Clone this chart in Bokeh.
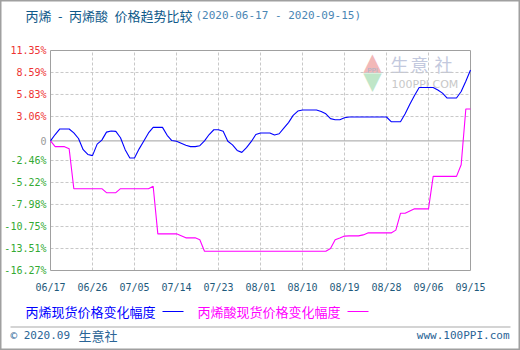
from bokeh.plotting import figure
from bokeh.models import Label, Range1d, BoxAnnotation, ColumnDataSource
from bokeh.core.properties import value
from bokeh.embed import file_html
from bokeh.resources import INLINE

# ---- data ----
days = list(range(91))  # 0 = 2020-06-17 ... 90 = 2020-09-15
tick_days = [0, 9, 18, 27, 36, 45, 54, 63, 72, 81, 90]
x_labels = ["06/17", "06/26", "07/05", "07/14", "07/23", "08/01",
            "08/10", "08/19", "08/28", "09/06", "09/15"]
y_ticks = [11.35, 8.59, 5.83, 3.06, 0, -2.46, -5.22, -7.98, -10.75, -13.51, -16.27]
y_labels = ["11.35%", "8.59%", "5.83%", "3.06%", "0", "-2.46%", "-5.22%",
            "-7.98%", "-10.75%", "-13.51%", "-16.27%"]

propylene = [0, 0.8, 1.5, 1.5, 1.5, 1.0, 0.3, -1.1, -1.7, -1.85,
             -0.4, 0.1, 1.1, 1.25, 1.2, 0.4, -1.1, -2.14, -2.14, -1.0,
             0.0, 1.0, 1.7, 1.7, 1.7, 0.7, 0.05, -0.05, -0.3, -0.55,
             -0.72, -0.72, -0.6, 0.0, 0.8, 1.4, 1.4, 1.2, -0.05, -0.5,
             -1.2, -1.44, -0.85, -0.1, 0.8, 1.0, 1.0, 1.0, 0.75, 0.9,
             1.6, 2.3, 3.2, 3.75, 3.88, 3.88, 3.88, 3.88, 3.7, 3.4,
             2.8, 2.66, 2.66, 2.9, 3.0, 3.0, 3.0, 3.0, 3.0, 3.0,
             3.0, 3.0, 3.0, 2.41, 2.41, 2.41, 3.4, 4.6, 5.7, 6.7,
             6.71, 6.71, 6.71, 6.4, 6.0, 5.38, 5.38, 5.38, 6.2, 7.5,
             8.9]
acrylic = [0, -0.72, -0.72, -0.72, -1.0, -6.0, -6.0, -6.0, -6.0, -6.0,
           -6.0, -6.0, -6.5, -6.5, -6.5, -6.0, -6.0, -6.0, -6.0, -6.0,
           -6.0, -6.0, -5.7, -11.67, -11.67, -11.67, -11.67, -11.67, -11.9, -12.17,
           -12.17, -12.17, -12.4, -13.85, -13.85, -13.85, -13.85, -13.85, -13.85, -13.85,
           -13.85, -13.85, -13.85, -13.85, -13.85, -13.85, -13.85, -13.85, -13.85, -13.85,
           -13.85, -13.85, -13.85, -13.85, -13.85, -13.85, -13.85, -13.85, -13.85, -13.85,
           -13.5, -12.4, -12.2, -11.95, -11.92, -11.92, -11.92, -11.8, -11.55, -11.55,
           -11.55, -11.55, -11.55, -11.55, -11.2, -9.09, -9.09, -8.8, -8.53, -8.53,
           -8.53, -8.53, -4.45, -4.45, -4.45, -4.45, -4.45, -4.45, -3.0, 4.0,
           4.0]

title_main = "丙烯\u2002-\u2002丙烯酸\u2002价格趋势比较"
title_dates = "(2020-06-17 - 2020-09-15)"
legend_names = ["丙烯现货价格变化幅度", "丙烯酸现货价格变化幅度"]
colors = ["#0000ff", "#ff00ff"]

MONO = "DejaVu Sans Mono"
CJK = "Noto Sans CJK SC"

W, H = 520, 350
FL, FR, FT, FB = 50, 470, 50, 270   # plot area in canvas pixels

x0, x1 = days[0], days[-1]
y0, y1 = y_ticks[-1], y_ticks[0]
kx = (FR - FL) / (x1 - x0)
ky = (FB - FT) / (y1 - y0)

p = figure(width=W, height=H, output_backend="svg", toolbar_location=None,
           x_range=Range1d(x0 - FL / kx, x1 + (W - FR) / kx),
           y_range=Range1d(y0 - (H - FB) / ky, y1 + FT / ky),
           min_border=0)
p.axis.visible = False
p.grid.visible = False
p.background_fill_color = "white"
p.border_fill_color = "white"
p.outline_line_color = "#a0a0a0"
p.outline_line_width = 2

GRID = "#c8c8c8"
inner_days = tick_days[1:-1]
p.multi_line(xs=[[d, d] for d in inner_days], ys=[[y0, y1] for _ in inner_days],
             line_color=GRID, line_dash="3 2", line_width=1)
inner_y = [t for t in y_ticks[1:-1] if t != 0]
p.multi_line(xs=[[x0, x1] for _ in inner_y], ys=[[t, t] for t in inner_y],
             line_color=GRID, line_dash="3 2", line_width=1)
p.line([x0, x1], [0, 0], line_color="#a0a0a0", line_width=1)
p.quad(left=[x0], right=[x1], bottom=[y0], top=[y1], fill_color=None,
       line_color="#a0a0a0", line_width=1)


def lab(text, cx, cy, color, font, size, align="left", level="annotation"):
    p.add_layout(Label(x=cx, y=H - cy, x_units="screen", y_units="screen",
                       text=text, text_color=color, text_font=font,
                       text_font_size=size, text_align=align,
                       text_baseline="middle", level=level))


def hbar(cx0, cx1, cy, color):
    p.add_layout(BoxAnnotation(left=cx0, right=cx1, top=H - cy + 0.5, bottom=H - cy - 0.5,
                               left_units="screen", right_units="screen",
                               top_units="screen", bottom_units="screen",
                               fill_color=color, fill_alpha=1, line_color=None))


# watermark
lab("▲", 372, 61, "#f2b8b8", "DejaVu Sans", "24px", align="center", level="underlay")
lab("PPI", 372, 70, "#a8b4c8", "DejaVu Sans", "7px", align="center", level="underlay")
lab("▼", 372, 80, "#bfe6c8", "DejaVu Sans", "24px", align="center", level="underlay")
for ch, cx in zip("生意社", [399, 419, 443]):
    lab(ch, cx, 63, "#c3c9de", CJK, "18px", align="center", level="underlay")
lab("100PPI.COM", 391, 84, "#c8c8c8", "DejaVu Sans", "11px", level="underlay")

# y tick labels
ysrc = ColumnDataSource(dict(
    x=[x0] * len(y_ticks), y=y_ticks, t=y_labels,
    c=["#ee3333" if t > 0 else ("#33aa33" if t < 0 else "#999999") for t in y_ticks]))
p.text(x="x", y="y", text="t", text_color="c", source=ysrc, x_offset=-4,
       text_align="right", text_baseline="middle",
       text_font=value(MONO), text_font_size="10px")

# x tick labels
xsrc = ColumnDataSource(dict(x=tick_days, y=[y0] * len(tick_days), t=x_labels))
p.text(x="x", y="y", text="t", source=xsrc, y_offset=17,
       text_align="center", text_baseline="middle", text_color="#1f5a7c",
       text_font=value(MONO), text_font_size="10px")

p.line(days, propylene, line_color=colors[0], line_width=1.1)
p.line(days, acrylic, line_color=colors[1], line_width=1.1)

# title
lab(title_main, 25, 15, "#0f5a8a", CJK, "13px")
lab(title_dates, 195, 15, "#4a86b4", MONO, "11px")

# legend
lab(legend_names[0], 25, 311, colors[0], CJK, "13px")
hbar(162, 183, 311, colors[0])
lab(legend_names[1], 197, 311, colors[1], CJK, "13px")
hbar(347, 368, 311, colors[1])

# footer
hbar(10, 510, 326.5, "#aaaaaa")
lab("© 2020.09", 10, 335, "#2a6496", MONO, "11px")
lab("生意社", 78, 335, "#2a6496", CJK, "13px")
lab("www.100PPI.com", 509, 335, "#2a6496", MONO, "11px", align="right")

open("out.html", "w").write(file_html(p, INLINE))
